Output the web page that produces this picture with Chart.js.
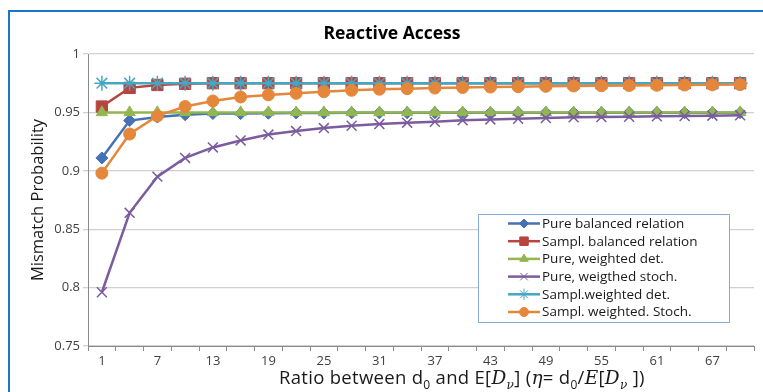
<!DOCTYPE html>
<html lang="en">
<head>
    <meta charset="UTF-8">
    <title>Reactive Access</title>
    <style>
        body { margin: 0; background: #fff; }
        #wrap { position: relative; width: 763px; height: 392px; overflow: hidden; }
        #frame {
            position: absolute; left: 8px; top: 10px; width: 800px; height: 500px;
            border-top: 2px solid #1d74cc; border-left: 2px solid #1d74cc;
            pointer-events: none;
        }
        #xTitle {
            position: absolute; left: 279px; top: 364px; white-space: nowrap;
            font-family: "Open Sans", sans-serif; font-size: 18.5px; color: #1a1a1a;
            letter-spacing: 0.3px;
        }
        #xTitle i { font-family: "DejaVu Serif", serif; }
        #xTitle sub { font-size: 12px; }
    </style>
</head>
<body>
<div id="wrap">
    <canvas id="chart" width="763" height="392"></canvas>
    <div id="frame"></div>
    <div id="xTitle">Ratio between d<sub>0</sub> and E[<i>D</i><sub><i>ν</i></sub>] (<i>η</i>= d<sub>0</sub>/<i>E</i>[<i>D</i><sub><i>ν</i></sub> ])</div>
</div>

<script src="https://cdn.jsdelivr.net/npm/chart.js"></script>
<script>
    // categories (ratio d0 / E[Dv])
    const xLabels = ['1', '4', '7', '10', '13', '16', '19', '22', '25', '28', '31', '34',
                     '37', '40', '43', '46', '49', '52', '55', '58', '61', '64', '67', '70'];

    const seriesNames = ['Pure balanced relation', 'Sampl. balanced relation', 'Pure, weighted det.',
                         'Pure, weigthed stoch.', 'Sampl.weighted det.', 'Sampl. weighted. Stoch.'];

    const pureBalanced = [0.911, 0.943, 0.946, 0.948, 0.949, 0.949, 0.9493, 0.9495, 0.9495, 0.9496, 0.9496, 0.9497,
                          0.9497, 0.9497, 0.9497, 0.9498, 0.9498, 0.9498, 0.9498, 0.9498, 0.9498, 0.9498, 0.9498, 0.9498];
    const samplBalanced = [0.955, 0.971, 0.9735, 0.9745, 0.975, 0.975, 0.975, 0.975, 0.975, 0.975, 0.975, 0.975,
                           0.975, 0.975, 0.975, 0.975, 0.975, 0.975, 0.975, 0.975, 0.975, 0.975, 0.975, 0.975];
    const pureWeightedDet = [0.95, 0.95, 0.95, 0.95, 0.95, 0.95, 0.95, 0.95, 0.95, 0.95, 0.95, 0.95,
                             0.95, 0.95, 0.95, 0.95, 0.95, 0.95, 0.95, 0.95, 0.95, 0.95, 0.95, 0.95];
    const pureWeightedStoch = [0.796, 0.864, 0.895, 0.911, 0.920, 0.926, 0.931, 0.934, 0.9366, 0.9386, 0.940, 0.9412,
                               0.942, 0.9432, 0.944, 0.9446, 0.9452, 0.9458, 0.946, 0.9463, 0.9466, 0.9469, 0.9472, 0.9475];
    const samplWeightedDet = [0.975, 0.975, 0.975, 0.975, 0.975, 0.975, 0.975, 0.975, 0.975, 0.975, 0.975, 0.975,
                              0.975, 0.975, 0.975, 0.975, 0.975, 0.975, 0.975, 0.975, 0.975, 0.975, 0.975, 0.975];
    const samplWeightedStoch = [0.898, 0.9315, 0.947, 0.955, 0.9598, 0.9632, 0.965, 0.9663, 0.9677, 0.9689, 0.9698, 0.9703,
                                0.9708, 0.9713, 0.9717, 0.972, 0.9723, 0.9726, 0.9728, 0.973, 0.9732, 0.9734, 0.9736, 0.9738];

    const yTicks = [0.75, 0.8, 0.85, 0.9, 0.95, 1];

    const colors = ['#4472b4', '#b8443f', '#93b651', '#7a5c9f', '#45a7c2', '#e5873b'];
    const markers = [
        { style: 'rectRot', r: 6 },
        { style: 'rect', r: 8 },
        { style: 'triangle', r: 6.5 },
        { style: 'crossRot', r: 7 },
        { style: 'star', r: 7.5 },
        { style: 'circle', r: 6 }
    ];
    const allData = [pureBalanced, samplBalanced, pureWeightedDet, pureWeightedStoch, samplWeightedDet, samplWeightedStoch];

    const FONT = '"Open Sans", sans-serif';

    const datasets = allData.map((d, i) => ({
        label: seriesNames[i],
        data: d,
        borderColor: colors[i],
        backgroundColor: colors[i],
        borderWidth: 2.5,
        pointStyle: markers[i].style,
        pointRadius: markers[i].r,
        pointHoverRadius: markers[i].r,
        pointBorderWidth: (markers[i].style === 'crossRot' || markers[i].style === 'star') ? 1.5 : 1,
        tension: 0,
        order: 6 - i   // later series drawn on top, like the original
    }));

    // legend box drawn inside the plot, on top of the lines
    const boxLegend = {
        id: 'boxLegend',
        afterDraw(chart) {
            const ctx = chart.ctx;
            const x0 = 478, y0 = 214, w = 251, h = 108;
            ctx.save();
            ctx.fillStyle = '#fff';
            ctx.fillRect(x0, y0, w, h);
            ctx.strokeStyle = '#86acd6';
            ctx.lineWidth = 1;
            ctx.strokeRect(x0 + 0.5, y0 + 0.5, w, h);
            ctx.font = '13.5px ' + FONT;
            ctx.textBaseline = 'middle';
            seriesNames.forEach((name, i) => {
                const y = 223.5 + i * 17.7;
                ctx.strokeStyle = colors[i];
                ctx.lineWidth = 2.5;
                ctx.beginPath();
                ctx.moveTo(508, y);
                ctx.lineTo(540, y);
                ctx.stroke();
                ctx.fillStyle = colors[i];
                ctx.lineWidth = 1;
                Chart.helpers.drawPoint(ctx, {
                    pointStyle: markers[i].style,
                    radius: markers[i].r * 0.75,
                    rotation: 0,
                    borderWidth: 1
                }, 524, y);
                ctx.fillStyle = '#1a1a1a';
                ctx.fillText(name, 542, y + 0.5);
            });
            ctx.restore();
        }
    };

    new Chart(document.getElementById('chart'), {
        type: 'line',
        data: { labels: xLabels, datasets: datasets },
        options: {
            responsive: false,
            animation: false,
            layout: { padding: { left: 26, right: 5, top: 0, bottom: 0 } },
            plugins: {
                legend: { display: false },
                tooltip: { enabled: false },
                title: {
                    display: true,
                    text: 'Reactive Access',
                    color: '#000',
                    font: { family: FONT, size: 17.5, weight: 'bold' },
                    padding: { top: 24, bottom: 9 }
                }
            },
            scales: {
                x: {
                    type: 'category',
                    offset: true,
                    grid: { offset: true, drawOnChartArea: false, tickLength: 5, color: '#8a8a8a' },
                    border: { color: '#8a8a8a', width: 1 },
                    ticks: {
                        autoSkip: false,
                        maxRotation: 0,
                        padding: 2,
                        color: '#404040',
                        font: { family: FONT, size: 13 },
                        callback: function (v, i) { return i % 2 === 0 ? this.getLabelForValue(v) : ''; }
                    },
                    afterFit(scale) { scale.height = 46; }
                },
                y: {
                    min: yTicks[0],
                    max: yTicks[yTicks.length - 1],
                    afterBuildTicks(scale) { scale.ticks = yTicks.map(v => ({ value: v })); },
                    grid: { color: '#d0d0d0', lineWidth: 1.3, tickLength: 5 },
                    border: { color: '#8a8a8a', width: 1 },
                    ticks: {
                        padding: 3,
                        color: '#404040',
                        font: { family: FONT, size: 13 },
                        callback: v => String(Number(v.toFixed(2)))
                    },
                    title: {
                        display: true,
                        text: 'Mismatch Probability',
                        color: '#1a1a1a',
                        font: { family: FONT, size: 16.5 },
                        padding: { top: 2, bottom: 0 }
                    },
                    afterFit(scale) { scale.width = 62; }
                }
            }
        },
        plugins: [boxLegend]
    });
</script>
</body>
</html>
